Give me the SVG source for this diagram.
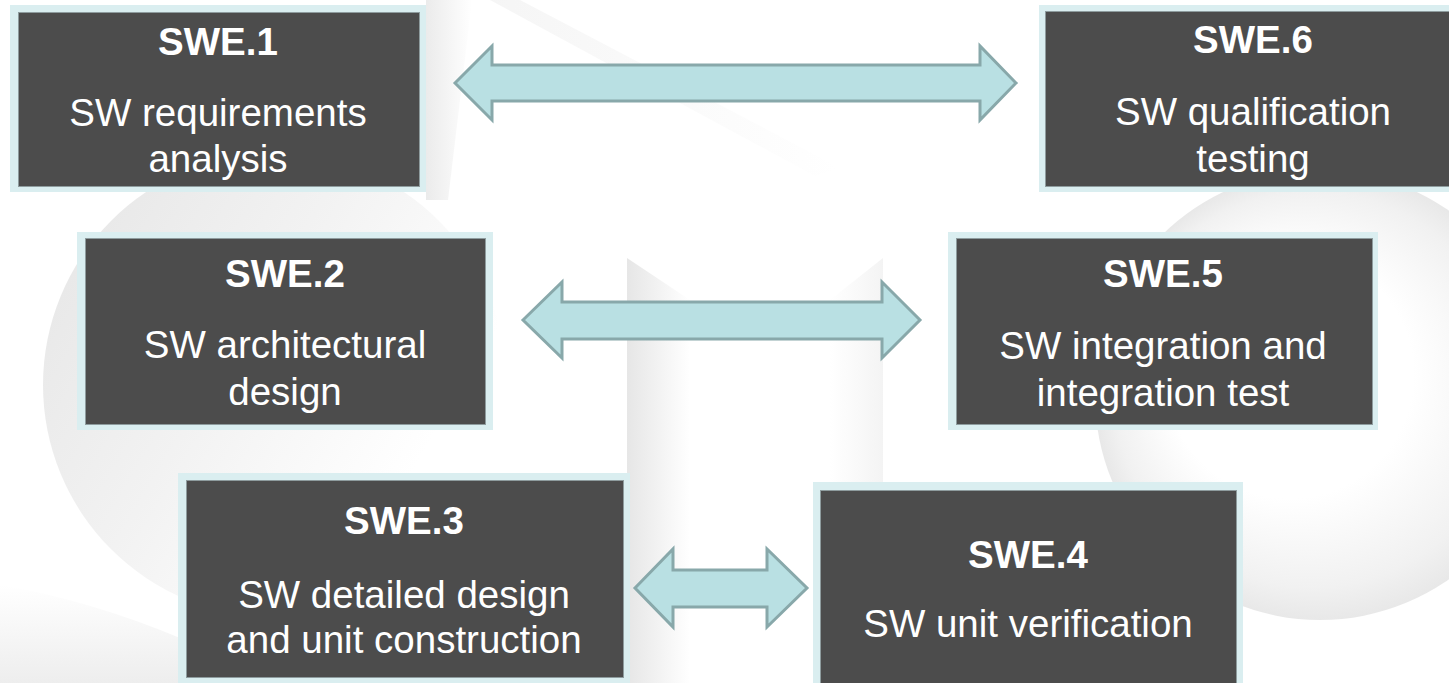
<svg xmlns="http://www.w3.org/2000/svg" width="1449" height="683" viewBox="0 0 1449 683">
  <style>
    .frame { fill: #daeef0; }
    .panel { fill: #4c4c4c; stroke: #8e9c9e; stroke-width: 1; }
    .title { font-family: "Liberation Sans", Arial, sans-serif; font-weight: bold; font-size: 38.5px; fill: #ffffff; text-anchor: middle; }
    .body { font-family: "Liberation Sans", Arial, sans-serif; font-size: 38.5px; fill: #ffffff; text-anchor: middle; }
    .link { fill: #b9e0e3; stroke: #88a8aa; stroke-width: 3; stroke-linejoin: miter; }
  </style>
  <defs>
    <linearGradient id="discLeft" x1="0" y1="0.2" x2="1" y2="0.8">
      <stop offset="0" stop-color="#e7e7e7"/>
      <stop offset="0.4" stop-color="#f2f2f2"/>
      <stop offset="0.8" stop-color="#ffffff"/>
    </linearGradient>
    <radialGradient id="discRight" cx="0.5" cy="0.5" r="0.5" fx="0.35" fy="0.4">
      <stop offset="0.55" stop-color="#ffffff"/>
      <stop offset="0.88" stop-color="#f1f1f1"/>
      <stop offset="1" stop-color="#e8e8e8"/>
    </radialGradient>
    <linearGradient id="stemShade" x1="0" y1="0" x2="1" y2="0">
      <stop offset="0" stop-color="#e6e6e6"/>
      <stop offset="1" stop-color="#ffffff"/>
    </linearGradient>
    <linearGradient id="stemShadeR" x1="1" y1="0" x2="0" y2="0">
      <stop offset="0" stop-color="#ececec"/>
      <stop offset="1" stop-color="#ffffff"/>
    </linearGradient>
    <linearGradient id="sweep" x1="0" y1="0" x2="0" y2="1">
      <stop offset="0" stop-color="#ffffff"/>
      <stop offset="1" stop-color="#e9e9e9"/>
    </linearGradient>
    <linearGradient id="ridge" x1="0" y1="0" x2="1" y2="0">
      <stop offset="0" stop-color="#f3f3f3"/>
      <stop offset="1" stop-color="#ffffff"/>
    </linearGradient>
  </defs>

  <rect width="1449" height="683" fill="#ffffff"/>

  <!-- faint background emblem -->
  <g id="backdrop">
    <circle cx="275" cy="385" r="232" fill="url(#discLeft)"/>
    <circle cx="1320" cy="395" r="225" fill="url(#discRight)"/>
    <path d="M0,585 Q90,600 185,640 L185,683 L0,683 Z" fill="url(#sweep)" opacity="0.8"/>
    <polygon points="627,258 690,300 690,683 627,683" fill="url(#stemShade)"/>
    <polygon points="883,258 830,300 830,683 883,683" fill="url(#stemShadeR)" opacity="0.6"/>
    <polygon points="426,0 472,0 448,200 426,200" fill="url(#stemShade)" opacity="0.8"/>
    <polygon points="490,0 520,0 840,168 815,176" fill="url(#ridge)" opacity="0.8"/>
  </g>

  <!-- connectors: double-headed block arrows -->
  <g id="connectors">
    <path class="link" d="M455,83 L492,46 L492,65 L980,65 L980,46 L1016,83 L980,120 L980,101 L492,101 L492,120 Z"/>
    <path class="link" d="M523,320 L562,282 L562,302 L882,302 L882,282 L920,320 L882,358 L882,339 L562,339 L562,358 Z"/>
    <path class="link" d="M635,588 L673,549 L673,570 L767,570 L767,549 L807,588 L767,627 L767,607 L673,607 L673,627 Z"/>
  </g>

  <g id="swe1">
    <rect class="frame" x="10" y="5" width="416" height="187"/>
    <rect class="panel" x="18.5" y="12.5" width="401" height="174"/>
    <text class="title" x="218" y="55">SWE.1</text>
    <text class="body" x="218" y="126">SW requirements</text>
    <text class="body" x="218" y="172">analysis</text>
  </g>

  <g id="swe6">
    <rect class="frame" x="1039" y="5" width="428" height="187"/>
    <rect class="panel" x="1045.5" y="11.5" width="415" height="175"/>
    <text class="title" x="1253" y="53">SWE.6</text>
    <text class="body" x="1253" y="125">SW qualification</text>
    <text class="body" x="1253" y="172">testing</text>
  </g>

  <g id="swe2">
    <rect class="frame" x="77" y="232" width="416" height="198"/>
    <rect class="panel" x="85.5" y="238.5" width="400" height="186"/>
    <text class="title" x="285" y="287">SWE.2</text>
    <text class="body" x="285" y="358">SW architectural</text>
    <text class="body" x="285" y="405">design</text>
  </g>

  <g id="swe5">
    <rect class="frame" x="948" y="232" width="430" height="198"/>
    <rect class="panel" x="956.5" y="238.5" width="416" height="186"/>
    <text class="title" x="1163" y="287">SWE.5</text>
    <text class="body" x="1163" y="359">SW integration and</text>
    <text class="body" x="1163" y="406">integration test</text>
  </g>

  <g id="swe3">
    <rect class="frame" x="178" y="473" width="452" height="220"/>
    <rect class="panel" x="186.5" y="480.5" width="437" height="197"/>
    <text class="title" x="404" y="534">SWE.3</text>
    <text class="body" x="404" y="608">SW detailed design</text>
    <text class="body" x="404" y="653">and unit construction</text>
  </g>

  <g id="swe4">
    <rect class="frame" x="813" y="482" width="430" height="220"/>
    <rect class="panel" x="820.5" y="490.5" width="416" height="220"/>
    <text class="title" x="1028" y="568">SWE.4</text>
    <text class="body" x="1028" y="637">SW unit verification</text>
  </g>
</svg>
